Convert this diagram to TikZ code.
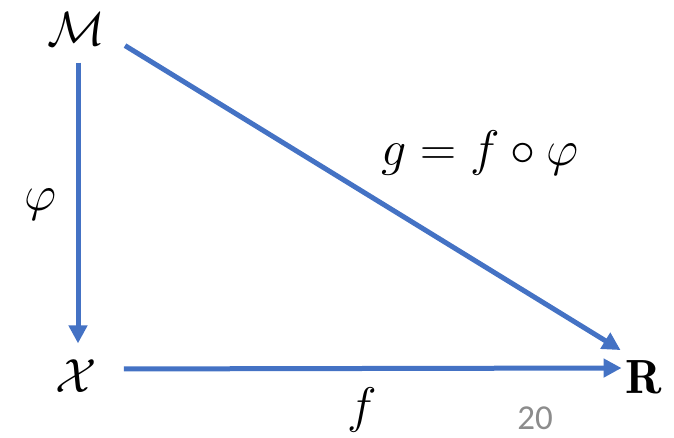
\RequirePackage{fix-cm}
\documentclass[tikz,border=0pt]{standalone}
\usepackage{fontspec}
\newfontfamily\carl{Carlito}
\usetikzlibrary{arrows.meta}
\definecolor{arrblue}{HTML}{4472C4}
\definecolor{numgray}{HTML}{8C8C8C}
\tikzset{
  obj/.style={inner sep=0pt, font=\fontsize{48}{52}\selectfont},
  lbl/.style={inner sep=0pt, font=\fontsize{50}{54}\selectfont},
  arr/.style={draw=arrblue, line width=5pt, -{Triangle[length=18pt,width=18pt]}},
}
\begin{document}
\begin{tikzpicture}[x=1pt,y=-1pt]
\useasboundingbox (0,0) rectangle (674,438);
\node[obj] (M) at (76,29) {$\mathcal{M}$};
\node[obj] (X) at (76,376) {$\mathcal{X}$};
\node[obj] (R) at (644,377) {$\mathbf{R}$};
\node[lbl] (phi) at (41,205) {$\varphi$};
\node[lbl] (g) at (480,153) {$g = f \circ \varphi$};
\node[lbl] (f) at (362,410) {$f$};
\node[inner sep=0pt, font=\carl\fontsize{35}{38}\selectfont, text=numgray] (num) at (535,418) {20};
\draw[arr, shorten <=17pt, shorten >=16pt] ([xshift=2pt]M.south) -- ([xshift=2pt]X.north);
\draw[arr, shorten <=27pt, shorten >=4pt] ([yshift=7pt]X.east) -- ([yshift=9pt]R.west);
\draw[arr] ([xshift=20pt]M.south east) -- ([xshift=-5pt,yshift=10pt]R.north west);
\end{tikzpicture}
\end{document}
